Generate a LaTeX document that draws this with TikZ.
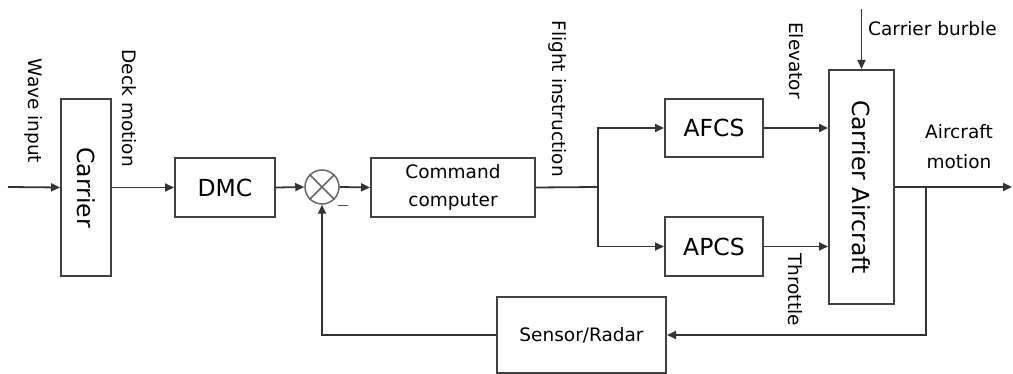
\documentclass[tikz,border=0pt]{standalone}
\usepackage{fontspec}
\usepackage{graphicx}
\setmainfont{DejaVu Sans}
\usetikzlibrary{arrows.meta,calc}
\begin{document}
\begin{tikzpicture}[x=1pt,y=-1pt,
  blk/.style={draw=black!75,line width=2pt,rectangle,inner sep=0pt,align=center},
  big/.style={font=\fontsize{23.5}{28}\selectfont},
  mid/.style={font=\fontsize{18.5}{28}\selectfont},
  lbl/.style={inner sep=0pt,font=\fontsize{18.5}{30}\selectfont},
  vlbl/.style={lbl,rotate=-90},
  con/.style={draw=black!80,line width=1.8pt},
  arr/.style={con,-{Triangle[length=9pt,width=8pt]}}
]
\useasboundingbox (0,0) rectangle (1013,374);
% blocks
\node[blk,big,minimum width=50pt,minimum height=177pt] (carrier) at (86,187.5) {\rotatebox{-90}{Carrier}};
\node[blk,big,minimum width=100pt,minimum height=59pt] (dmc) at (225,187.5) {DMC};
\node[draw=black!60,line width=1.5pt,circle,minimum size=34pt,inner sep=0pt] (sum) at (322,187) {};
\draw[black!60,line width=1.5pt] (sum.north east) -- (sum.south west) (sum.north west) -- (sum.south east);
\node[blk,mid,minimum width=164pt,minimum height=59pt] (cc) at (453,187.5) {Command\\computer};
\node[blk,big,minimum width=98pt,minimum height=58pt] (afcs) at (714,128) {AFCS};
\node[blk,big,minimum width=98pt,minimum height=59pt] (apcs) at (714,246.5) {APCS};
\node[blk,big,minimum width=65pt,minimum height=234pt] (ca) at (861.5,187) {\rotatebox{-90}{Carrier Aircraft}};
\node[blk,mid,minimum width=169pt,minimum height=76pt] (sensor) at (581.5,335) {Sensor/Radar};
% coordinates
\coordinate (win) at (8,187);
\coordinate (br) at (598,187);
\coordinate (burb) at (861.5,9);
\coordinate (out) at (1012,187);
\coordinate (tap) at (926,187);
% connectors
\draw[arr] (win) -- (carrier.west);
\draw[arr] (carrier.east) -- (dmc.west);
\draw[arr] (dmc.east) -- (sum.west);
\draw[arr] (sum.east) -- (cc.west);
\draw[con] (cc.east) -- (br);
\draw[arr] (br) |- (afcs.west);
\draw[arr] (br) |- (apcs.west);
\draw[arr] (afcs.east) -- (afcs.east -| ca.west);
\draw[arr] (apcs.east) -- (apcs.east -| ca.west);
\draw[arr] (burb) -- (ca.north);
\draw[arr] (ca.east) -- (out);
\draw[arr] (tap) |- (sensor.east);
\draw[arr] (sensor.west) -| (sum.south);
% labels
\node[vlbl] (lwave) at (34,111) {Wave input};
\node[vlbl,anchor=east] (ldeck) at (129,167) {Deck motion};
\node[vlbl,anchor=east] (lflight) at (557.5,177) {Flight instruction};
\node[vlbl,anchor=west] (lelev) at (796,22) {Elevator};
\node[vlbl,anchor=west] (lthr) at (795,253) {Throttle};
\node[lbl,anchor=west] (lburb) at (868,29) {Carrier burble};
\node[lbl,align=center] (lmot) at (959,147) {Aircraft\\motion};
\node[inner sep=0pt,font=\fontsize{18}{20}\selectfont] (minus) at (343,206) {$-$};
\end{tikzpicture}
\end{document}
